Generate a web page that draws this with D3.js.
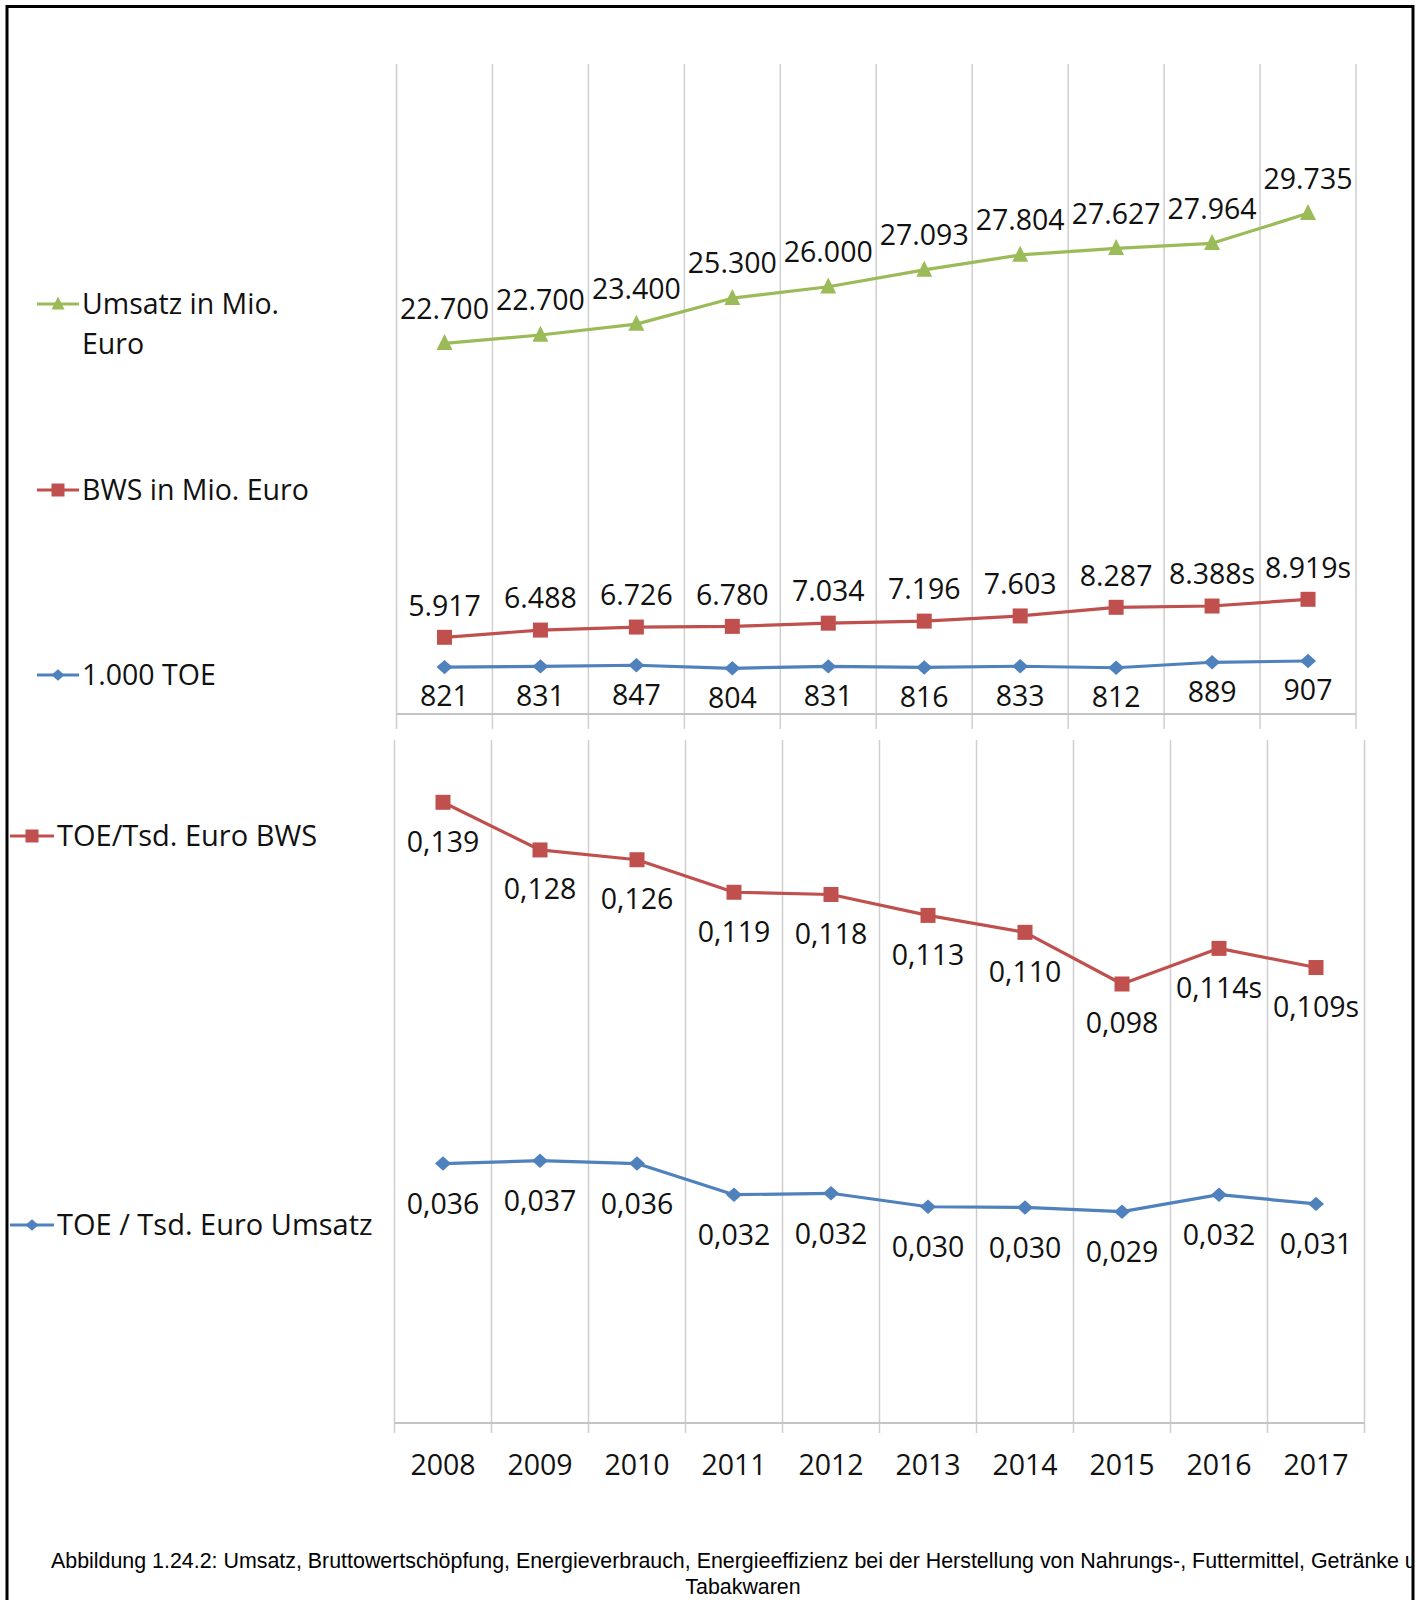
<!DOCTYPE html>
<html><head><meta charset="utf-8">
<script src="https://cdn.jsdelivr.net/npm/d3@7"></script>
<style>body{margin:0;background:#fff;} svg{display:block;}</style>
</head><body>
<script>
// ---- data ----
const years = ["2008","2009","2010","2011","2012","2013","2014","2015","2016","2017"];
const umsatz = [22700, 23150, 23740, 25140, 25760, 26670, 27480, 27840, 28110, 29735];
const umsatzLabels = ["22.700","22.700","23.400","25.300","26.000","27.093","27.804","27.627","27.964","29.735"];
const bws = [5917, 6488, 6726, 6780, 7034, 7196, 7603, 8287, 8388, 8919];
const bwsLabels = ["5.917","6.488","6.726","6.780","7.034","7.196","7.603","8.287","8.388s","8.919s"];
const toe = [821, 831, 847, 804, 831, 816, 833, 812, 889, 907];
const toeLabels = ["821","831","847","804","831","816","833","812","889","907"];
const toeBws = [0.1388, 0.1281, 0.1259, 0.1186, 0.1181, 0.1134, 0.1096, 0.0980, 0.1060, 0.1017];
const toeBwsLabels = ["0,139","0,128","0,126","0,119","0,118","0,113","0,110","0,098","0,114s","0,109s"];
const toeUmsatz = [0.0362, 0.0366, 0.0362, 0.0318, 0.0320, 0.0301, 0.0300, 0.0294, 0.0318, 0.0305];
const toeUmsatzLabels = ["0,036","0,037","0,036","0,032","0,032","0,030","0,030","0,029","0,032","0,031"];
const captionLines = ["Abbildung 1.24.2: Umsatz, Bruttowertschöpfung, Energieverbrauch, Energieeffizienz bei der Herstellung von Nahrungs-, Futtermittel, Getränke und", "Tabakwaren"];

const GREEN = "#9BBB59", RED = "#C0504D", BLUE = "#4F81BD";
const FONT = "'Open Sans', 'Noto Sans', sans-serif";
const FS = 28.5;

const W = 1416, H = 1600;
const svg = d3.select("body").append("svg").attr("width", W).attr("height", H);

// border (top, left, right)
svg.append("path").attr("d", "M7,1600 L7,6.5 L1413,6.5 L1413,1600")
  .attr("fill", "none").attr("stroke", "#000").attr("stroke-width", 3);

// ---- scales ----
const xUp = d3.scaleBand().domain(years).range([396.5, 1356]);
const xLow = d3.scaleBand().domain(years).range([394.5, 1364.5]);
const yUms = d3.scaleLinear().domain([22700, 29735]).range([343.3, 213.3]);
const yBws = d3.scaleLinear().domain([5917, 8919]).range([637.3, 599.3]);
const yToe = d3.scaleLinear().domain([804, 907]).range([668.3, 661]);
const yTB = d3.scaleLinear().domain([0.0980, 0.1388]).range([984, 802.3]);
const yTU = d3.scaleLinear().domain([0.0294, 0.0366]).range([1211.7, 1160.7]);

// ---- grid ----
function grid(x, top, axisY, tickEnd) {
  const bounds = years.map(y => x(y)).concat([x.range()[1]]);
  const g = svg.append("g");
  g.selectAll("line.g").data(bounds).join("line")
    .attr("x1", d => d).attr("x2", d => d).attr("y1", top).attr("y2", tickEnd)
    .attr("stroke", "#cfcfcf").attr("stroke-width", 1.5);
  g.append("line").attr("x1", x.range()[0]).attr("x2", x.range()[1])
    .attr("y1", axisY).attr("y2", axisY).attr("stroke", "#c4c4c4").attr("stroke-width", 2);
}
grid(xUp, 64, 714, 729);
grid(xLow, 740, 1423, 1433);

// ---- markers ----
function drawMarker(g, type, size) {
  if (type === "tri") {
    const w = size, h = size;
    return g.append("path").attr("d", `M0,${-h*0.58} L${w/2},${h*0.42} L${-w/2},${h*0.42} Z`);
  } else if (type === "sq") {
    return g.append("rect").attr("x", -size/2).attr("y", -size/2).attr("width", size).attr("height", size);
  } else {
    const w = size/2, h = size*0.45;
    return g.append("path").attr("d", `M0,${-h} L${w},0 L0,${h} L${-w},0 Z`);
  }
}

function series(x, yScale, values, labels, color, type, msize, labelOffset) {
  const cx = d => x(d) + x.bandwidth()/2;
  const pts = years.map((yr, i) => [cx(yr), yScale(values[i])]);
  svg.append("path").attr("d", d3.line()(pts))
    .attr("fill", "none").attr("stroke", color).attr("stroke-width", 3.2)
    .attr("stroke-linejoin", "round");
  pts.forEach(p => {
    const g = svg.append("g").attr("transform", `translate(${p[0]},${p[1]})`);
    drawMarker(g, type, msize).attr("fill", color);
  });
  svg.append("g").selectAll("text").data(labels).join("text")
    .attr("x", (d, i) => pts[i][0]).attr("y", (d, i) => pts[i][1] + labelOffset)
    .attr("dy", "0.36em").attr("text-anchor", "middle")
    .attr("font-family", FONT).attr("font-size", FS).attr("fill", "#111")
    .text(d => d);
}

series(xUp, yUms, umsatz, umsatzLabels, GREEN, "tri", 16, -35);
series(xUp, yBws, bws, bwsLabels, RED, "sq", 15, -32);
series(xUp, yToe, toe, toeLabels, BLUE, "dia", 16, 29);
series(xLow, yTB, toeBws, toeBwsLabels, RED, "sq", 15, 39);
series(xLow, yTU, toeUmsatz, toeUmsatzLabels, BLUE, "dia", 16, 40);

// ---- year axis ----
const ax = svg.append("g").attr("transform", "translate(0,1423)")
  .call(d3.axisBottom(xLow).tickSize(0).tickPadding(32));
ax.select(".domain").remove();
ax.selectAll("text").attr("font-family", FONT).attr("font-size", FS).attr("fill", "#111");

// ---- legend ----
const legend = [
  {lines: ["Umsatz in Mio.", "Euro"], color: GREEN, type: "tri", x0: 37, x1: 79, tx: 82, y: 304, fs: FS},
  {lines: ["BWS in Mio. Euro"], color: RED, type: "sq", x0: 37, x1: 79, tx: 82, y: 490, fs: FS},
  {lines: ["1.000 TOE"], color: BLUE, type: "dia", x0: 37, x1: 79, tx: 82, y: 675, fs: FS},
  {lines: ["TOE/Tsd. Euro BWS"], color: RED, type: "sq", x0: 10, x1: 54, tx: 57, y: 836, fs: 29},
  {lines: ["TOE / Tsd. Euro Umsatz"], color: BLUE, type: "dia", x0: 10, x1: 54, tx: 57, y: 1225, fs: 29}
];
legend.forEach(l => {
  svg.append("line").attr("x1", l.x0).attr("x2", l.x1).attr("y1", l.y).attr("y2", l.y)
    .attr("stroke", l.color).attr("stroke-width", 3);
  const g = svg.append("g").attr("transform", `translate(${(l.x0 + l.x1)/2},${l.y})`);
  drawMarker(g, l.type, 13).attr("fill", l.color);
  l.lines.forEach((t, i) => {
    svg.append("text").attr("x", l.tx).attr("y", l.y + i*40).attr("dy", "0.36em")
      .attr("font-family", FONT).attr("font-size", l.fs).attr("fill", "#111").text(t);
  });
});

// ---- caption ----
svg.append("clipPath").attr("id", "capclip").append("rect")
  .attr("x", 8).attr("y", 1500).attr("width", 1404).attr("height", 100);
const cap = svg.append("g").attr("clip-path", "url(#capclip)");
cap.append("text").attr("x", 51).attr("y", 1568)
  .attr("font-family", "'Liberation Sans', Arial, sans-serif").attr("font-size", 21.4).attr("fill", "#000")
  .text(captionLines[0]);
cap.append("text").attr("x", 743).attr("y", 1594).attr("text-anchor", "middle")
  .attr("font-family", "'Liberation Sans', Arial, sans-serif").attr("font-size", 21.4).attr("fill", "#000")
  .text(captionLines[1]);
</script>
</body></html>
